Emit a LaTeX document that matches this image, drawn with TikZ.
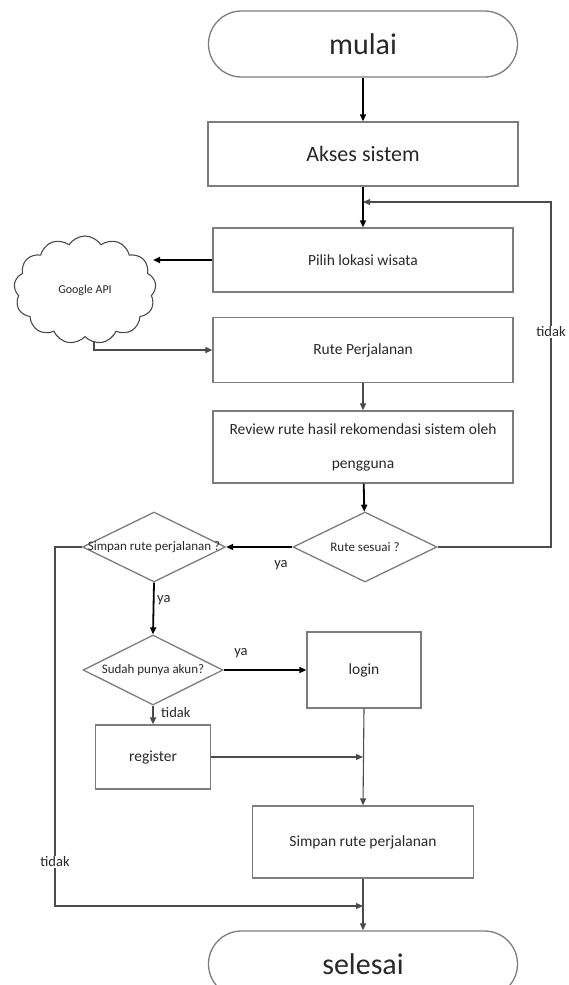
\documentclass[tikz,border=0pt]{standalone}
\usepackage{fontspec}
\setmainfont{Carlito}
\usetikzlibrary{shapes.geometric,shapes.symbols,arrows.meta}

\definecolor{boxline}{RGB}{125,125,125}
\definecolor{flowline}{RGB}{75,75,75}
\definecolor{txt}{RGB}{40,40,40}

\tikzset{
  terminal/.style={draw=boxline, line width=1.3pt, rounded corners=33pt,
    minimum width=309pt, minimum height=66pt, inner sep=0pt, text=txt,
    font=\fontsize{30}{32}\selectfont},
  procbox/.style={draw=boxline, line width=1.3pt, minimum width=300pt,
    minimum height=64pt, inner sep=0pt, text=txt,
    font=\fontsize{15.5}{18}\selectfont},
  smallbox/.style={procbox, minimum width=115pt, minimum height=70pt},
  decision/.style={diamond, draw=boxline, line width=1.3pt, inner sep=0pt,
    minimum width=143pt, minimum height=70pt},
  dectext/.style={text=txt, font=\fontsize{13}{15}\selectfont, inner sep=0pt},
  flow/.style={draw=flowline, line width=1.1pt,
    -{Triangle[length=7pt,width=6pt]}},
  strongflow/.style={draw=black, line width=1.8pt,
    -{Triangle[length=7pt,width=6pt]}},
  branch/.style={text=txt, font=\fontsize{14.5}{16}\selectfont, inner sep=1pt},
}

\begin{document}
\begin{tikzpicture}[x=1pt,y=-1pt]
  \useasboundingbox[fill=white] (0,0) rectangle (568,985);

  % main column
  \node[terminal] (mulai) at (363,44) {mulai};
  \node[procbox, minimum width=310pt, font=\fontsize{22}{24}\selectfont] (akses) at (363,154) {Akses sistem};
  \node[procbox] (pilih) at (363,260) {Pilih lokasi wisata};
  \node[procbox, minimum height=65pt] (rute) at (363,350) {Rute Perjalanan};
  \node[procbox, minimum height=72pt, align=center] (review) at (363,447)
    {Review rute hasil rekomendasi sistem oleh\\[16pt]pengguna};
  \node[decision, minimum width=144pt] (sesuai) at (365,547) {};
  \node[dectext] at (sesuai) {Rute sesuai ?};

  % external service
  \node[cloud, draw=flowline, line width=1.1pt, cloud puffs=13, cloud puff arc=115,
    minimum width=142pt, minimum height=108pt, inner sep=0pt, text=txt,
    font=\fontsize{12}{14}\selectfont] (google) at (85,290) {Google API};
  \coordinate (cloudIn) at (153,260);
  \coordinate (cloudOut) at (94,341);

  % saving branch
  \node[decision] (simpanQ) at (154,547) {};
  \node[dectext] at (simpanQ) {Simpan rute perjalanan ?};
  \node[decision, minimum width=140pt] (akun) at (153,670) {};
  \node[dectext] at (akun) {Sudah punya akun?};
  \node[smallbox, minimum width=114pt, minimum height=76pt] (login) at (364,670) {login};
  \node[smallbox, minimum height=64pt] (register) at (153,757) {register};
  \node[procbox, minimum width=221pt, minimum height=72pt] (simpan) at (363,842) {Simpan rute perjalanan};
  \node[terminal] (selesai) at (363,964) {selesai};

  % helper points for routed connectors
  \coordinate (loopTop) at (551,202);
  \coordinate (loopJoin) at (363,202);
  \coordinate (leftBottom) at (55,906);
  \coordinate (endJoin) at (363,906);
  \coordinate (regJoin) at (363,757);

  % connectors
  \draw[flow, draw=black, line width=1.4pt] (mulai) -- (akses);
  \draw[flow, draw=black, line width=1.4pt] (akses) -- (pilih);
  \draw[flow] (sesuai.east) -| (loopTop) -- (loopJoin);
  \node[branch, fill=white] at (551,332) {tidak};
  \draw[strongflow] (pilih.west) -- (cloudIn);
  \draw[flow] (cloudOut) |- (rute.west);
  \draw[flow] (rute) -- (review);
  \draw[strongflow] (review) -- (sesuai);
  \draw[strongflow] (sesuai.west) -- (simpanQ.east);
  \node[branch] at (281,565) {ya};
  \draw[strongflow] (simpanQ.south) -- (akun.north);
  \node[branch, anchor=west] at (156,600) {ya};
  \draw[flow] (simpanQ.west) -| (leftBottom) -- (endJoin);
  \node[branch, fill=white] at (55,862) {tidak};
  \draw[strongflow, line width=1.4pt] (akun.east) -- (login.west);
  \node[branch] at (241,653) {ya};
  \draw[flow] (akun.south) -- (register.north);
  \node[branch, anchor=west] at (160,713) {tidak};
  \draw[flow] (login.south) -- (simpan.north);
  \draw[flow] (register.east) -- (regJoin);
  \draw[flow] (simpan.south) -- (selesai.north);
\end{tikzpicture}
\end{document}
